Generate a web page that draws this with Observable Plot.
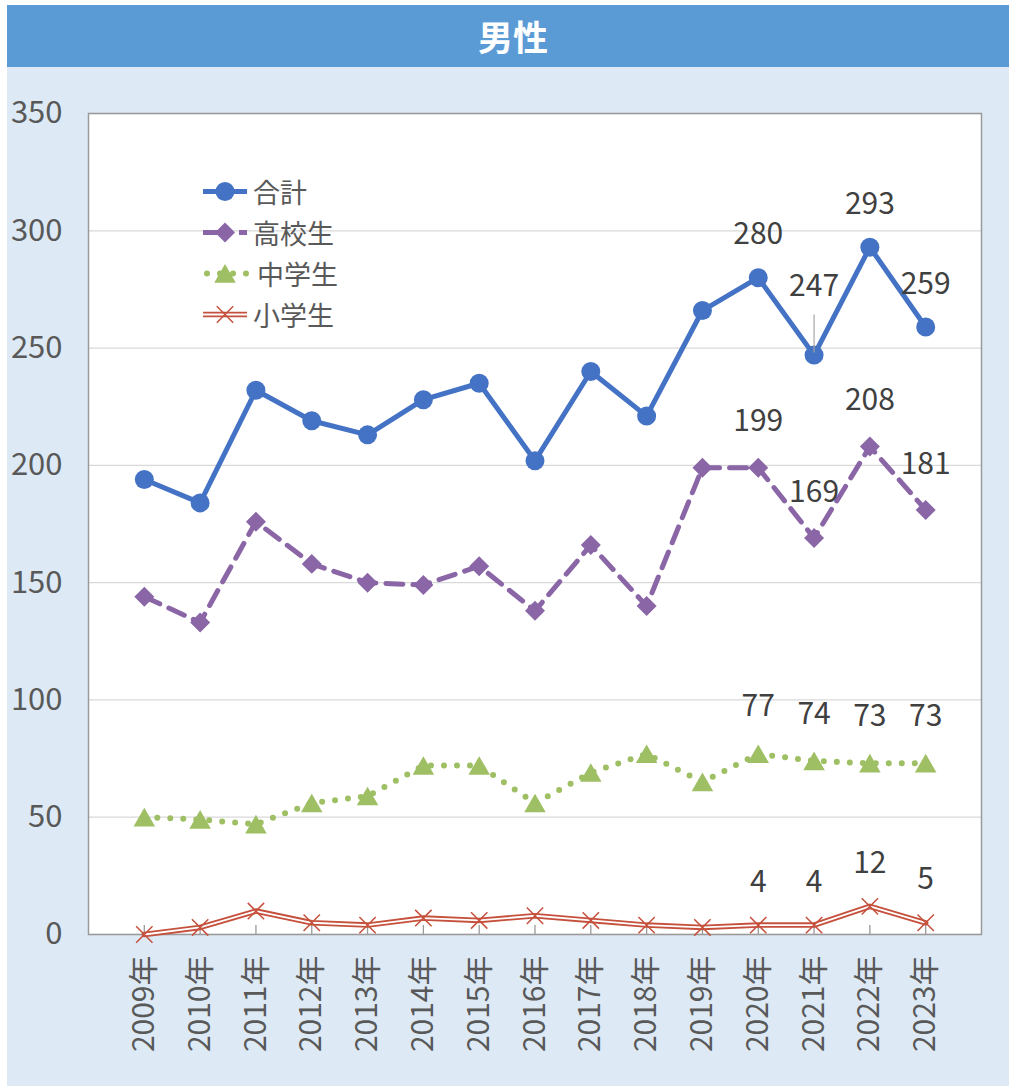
<!DOCTYPE html>
<html>
<head>
<meta charset="utf-8">
<script src="https://cdn.jsdelivr.net/npm/d3@7"></script>
<script src="https://cdn.jsdelivr.net/npm/@observablehq/plot@0.6"></script>
<style>
  html, body { margin: 0; padding: 0; background: #ffffff; }
  body { width: 1009px; height: 1086px; overflow: hidden; position: relative; font-family: "Noto Sans CJK JP", "Noto Sans", sans-serif; }
  #panel { position: absolute; left: 7px; top: 5px; width: 1002px; height: 1081px; background: #DDEAF6; }
  #header { position: absolute; left: 7px; top: 5px; width: 1002px; height: 62px; background: #5B9BD5; color: #ffffff;
            font-size: 35px; font-weight: bold; text-align: center; line-height: 62px; padding-left: 10px; box-sizing: border-box; }
  #chart { position: absolute; left: 0; top: 67px; }
  #legend { position: absolute; left: 203px; top: 171px; }
  .row { display: flex; align-items: center; height: 41px; }
  .row span { font-size: 27px; color: #595959; margin-left: 4px; line-height: 41px; }
</style>
</head>
<body>
<div id="panel"></div>
<div id="header">男性</div>
<div id="chart"></div>
<div id="legend"></div>
<script>
// ---- data ----
const years = [2009, 2010, 2011, 2012, 2013, 2014, 2015, 2016, 2017, 2018, 2019, 2020, 2021, 2022, 2023];
const seriesNames = ["合計", "高校生", "中学生", "小学生"];
const total      = [194, 184, 232, 219, 213, 228, 235, 202, 240, 221, 266, 280, 247, 293, 259];
const high       = [144, 133, 176, 158, 150, 149, 157, 138, 166, 140, 199, 199, 169, 208, 181];
const junior     = [50, 49, 47, 56, 59, 72, 72, 56, 69, 77, 65, 77, 74, 73, 73];
const elementary = [0, 3, 10, 5, 4, 7, 6, 8, 6, 4, 3, 4, 4, 12, 5];
const yTicks = [0, 50, 100, 150, 200, 250, 300, 350];
const labelYears = [2020, 2021, 2022, 2023];

// ---- styles ----
const colors = {"合計": "#4472C4", "高校生": "#8A66A6", "中学生": "#9FBF65", "小学生": "#C5503C"};
const axisColor = "#9A9A9A";
const textColor = "#595959";
const labelColor = "#404040";
const font = "'Noto Sans CJK JP', 'Noto Sans', sans-serif";

const rows = vals => years.map((year, i) => ({year, value: vals[i]}));
const T = rows(total), H = rows(high), J = rows(junior), E = rows(elementary);
const isLab = d => labelYears.includes(d.year);
const movedYear = 2021; // 合計 label pulled up with a leader line

const lab = (data, dy) => Plot.text(data, {
  x: "year", y: "value", text: d => String(d.value), dy,
  fontSize: 30, fill: labelColor, fontFamily: font
});

const chart = Plot.plot({
  width: 1009, height: 1019,
  marginLeft: 88, marginRight: 28, marginTop: 46, marginBottom: 152,
  style: {background: "transparent", fontFamily: font, color: textColor, overflow: "visible"},
  x: {domain: [2008, 2024], axis: null},
  y: {domain: [0, 350], axis: null},
  marks: [
    Plot.frame({fill: "white", stroke: null}),
    Plot.gridY(yTicks, {stroke: "#D9D9D9", strokeOpacity: 1, strokeWidth: 1.3}),
    Plot.frame({stroke: axisColor, strokeWidth: 1.5}),
    Plot.ruleX(years, {x: d => d, y1: 0, y2: 0, insetTop: -9, stroke: axisColor, strokeWidth: 1.3}),
    Plot.axisY(yTicks, {anchor: "left", label: null, tickSize: 0, tickPadding: 26, fontSize: 31, color: textColor, fontFamily: font}),
    Plot.axisX(years, {anchor: "bottom", label: null, tickSize: 0, tickPadding: 21, tickRotate: -90, fontSize: 30,
                       tickFormat: d => `${d}年`, color: textColor, fontFamily: font}),

    // 小学生: double line with ×
    Plot.line(E, {x: "year", y: "value", stroke: colors["小学生"], strokeWidth: 5.5}),
    Plot.line(E, {x: "year", y: "value", stroke: "white", strokeWidth: 1.8}),
    Plot.dot(E, {x: "year", y: "value", symbol: "times", r: 7.5, stroke: colors["小学生"], strokeWidth: 1.5}),

    // 中学生: round-dot line with triangles
    Plot.line(J, {x: "year", y: "value", stroke: colors["中学生"], strokeWidth: 6, strokeDasharray: "0,13", strokeLinecap: "round"}),
    Plot.dot(J, {x: "year", y: "value", symbol: "triangle", r: 8, fill: colors["中学生"], stroke: null, dy: 3}),

    // 高校生: dashed line with diamonds
    Plot.line(H, {x: "year", y: "value", stroke: colors["高校生"], strokeWidth: 5, strokeDasharray: "17,10"}),
    Plot.dot(H, {x: "year", y: "value", symbol: "diamond2", r: 9, fill: colors["高校生"], stroke: null}),

    // 合計: solid line with circles
    Plot.line(T, {x: "year", y: "value", stroke: colors["合計"], strokeWidth: 5}),
    Plot.dot(T, {x: "year", y: "value", r: 9.5, fill: colors["合計"], stroke: null}),
    Plot.ruleX(T.filter(d => d.year === movedYear), {x: "year", y1: "value", y2: "value", insetTop: -40, insetBottom: 2,
                                                       stroke: "#A6A6A6", strokeWidth: 1.2}),

    // data labels
    lab(T.filter(d => isLab(d) && d.year !== movedYear), -43),
    lab(T.filter(d => d.year === movedYear), -69),
    lab(H.filter(isLab), -46),
    lab(J.filter(isLab), -47),
    lab(E.filter(isLab), -43)
  ]
});
document.getElementById("chart").appendChild(chart);

// ---- legend ----
const legend = d3.select("#legend");
const sym = (type, r) => d3.symbol(type, Math.PI * r * r)();
seriesNames.forEach(name => {
  const row = legend.append("div").attr("class", "row");
  const svg = row.append("svg").attr("width", 46).attr("height", 41);
  const c = colors[name];
  const cy = 20.5;
  if (name === "合計") {
    svg.append("line").attr("x1", 0).attr("x2", 44).attr("y1", cy).attr("y2", cy).attr("stroke", c).attr("stroke-width", 5);
    svg.append("circle").attr("cx", 22).attr("cy", cy).attr("r", 9.5).attr("fill", c);
  } else if (name === "高校生") {
    svg.append("line").attr("x1", 0).attr("x2", 44).attr("y1", cy).attr("y2", cy).attr("stroke", c).attr("stroke-width", 5).attr("stroke-dasharray", "21,15");
    svg.append("path").attr("d", sym(d3.symbolDiamond2, 9)).attr("transform", `translate(22,${cy})`).attr("fill", c);
  } else if (name === "中学生") {
    svg.append("line").attr("x1", 4).attr("x2", 44).attr("y1", cy).attr("y2", cy).attr("stroke", c).attr("stroke-width", 6)
      .attr("stroke-dasharray", "0,13").attr("stroke-linecap", "round");
    svg.append("path").attr("d", sym(d3.symbolTriangle, 8)).attr("transform", `translate(22,${cy + 3})`).attr("fill", c);
  } else {
    svg.append("line").attr("x1", 0).attr("x2", 44).attr("y1", cy).attr("y2", cy).attr("stroke", c).attr("stroke-width", 5.5);
    svg.append("line").attr("x1", 0).attr("x2", 44).attr("y1", cy).attr("y2", cy).attr("stroke", "white").attr("stroke-width", 1.8);
    svg.append("path").attr("d", sym(d3.symbolTimes, 7.5)).attr("transform", `translate(22,${cy})`).attr("fill", "none").attr("stroke", c).attr("stroke-width", 1.5);
  }
  row.append("span").text(name).style("margin-left", name === "中学生" ? "8px" : "4px");
});
</script>
</body>
</html>
